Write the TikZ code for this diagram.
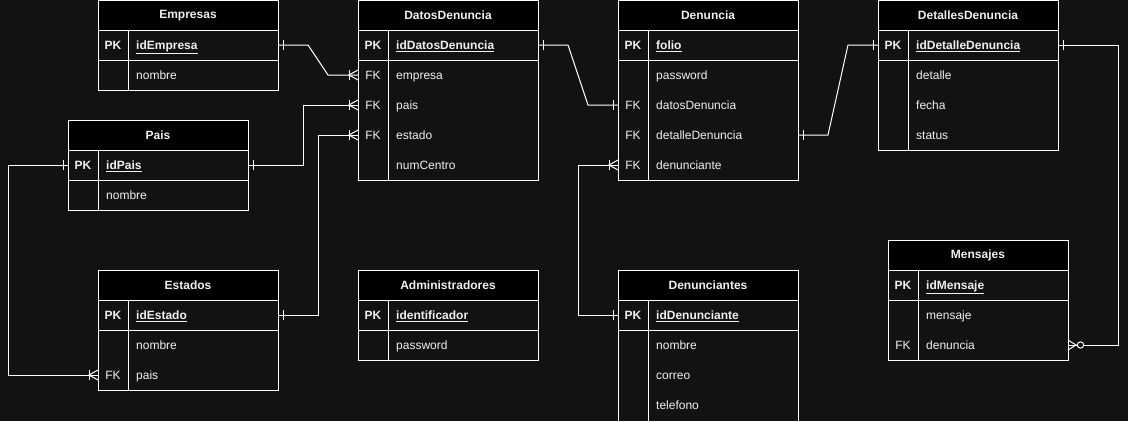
\documentclass[tikz,border=0pt]{standalone}
\usepackage{fontspec}
\setmainfont{Liberation Sans}
\usetikzlibrary{calc}
\definecolor{bg}{HTML}{121212}
\definecolor{fg}{HTML}{F0F0F0}
\tikzset{
  tabline/.style={draw=white, line width=1pt},
  titlebox/.style={draw=white, fill=black, line width=1pt, minimum width=180pt, minimum height=30pt,
    inner sep=0pt, outer sep=0pt, text=fg, font=\fontsize{12}{14}\selectfont\bfseries},
  rowbox/.style={minimum width=180pt, minimum height=30pt, inner sep=0pt, outer sep=0pt},
  keytext/.style={text=fg, inner sep=0pt, text height=8.6pt, text depth=0pt, font=\fontsize{12}{14}\selectfont},
  pkkey/.style={keytext, font=\fontsize{12}{14}\selectfont\bfseries},
  fieldtext/.style={text=fg, anchor=west, inner sep=0pt, text height=8.6pt, text depth=0pt, font=\fontsize{12}{14}\selectfont},
  pkfield/.style={fieldtext, font=\fontsize{12}{14}\selectfont\bfseries},
  conn/.style={draw=white, line width=1pt},
}
\newcommand{\ertitle}[4]{\node[titlebox] (#1) at ({#2+90},{#3+15}) {#4};}
\newcommand{\erframe}[3]{%
  \draw[tabline] ({#1},{#2+30}) rectangle ({#1+180},{#3});
  \draw[tabline] ({#1},{#2+60}) -- ({#1+180},{#2+60});
  \draw[tabline] ({#1+30},{#2+30}) -- ({#1+30},{#3});}
\newcommand{\errow}[5]{%
  \node[rowbox] (#1) at ({#2+90},{#3}) {};
  \node[keytext] (#1-k) at ({#2+15},{#3}) {#4};
  \node[fieldtext] (#1-f) at ({#2+38},{#3}) {#5};}
\newcommand{\erpk}[4]{%
  \node[rowbox] (#1) at ({#2+90},{#3}) {};
  \node[pkkey] (#1-k) at ({#2+15},{#3}) {PK};
  \node[pkfield] (#1-f) at ({#2+38},{#3}) {\underline{#4}};}
\newcommand{\mkoneE}[1]{\draw[conn] ($(#1.east)+(5,-5)$) -- ++(0,10);}
\newcommand{\mkoneW}[1]{\draw[conn] ($(#1.west)+(-5,-5)$) -- ++(0,10);}
\newcommand{\mkmanyW}[1]{\draw[conn] ($(#1.west)+(0,-5)$) -- ++(-9,5) -- ++(9,5);
  \draw[conn] ($(#1.west)+(-9,-5)$) -- ++(0,10);}
\newcommand{\mkzmanyE}[1]{\draw[conn] ($(#1.east)+(0,-5)$) -- ++(8,5) -- ++(-8,5);
  \draw[conn, fill=bg] ($(#1.east)+(12.5,0)$) circle (3.2);}
\begin{document}
\begin{tikzpicture}[x=1pt, y=-1pt]
\useasboundingbox (0,0) rectangle (1128,421);
\fill[bg] (0,0) rectangle (1128,421);

% Empresas
\ertitle{emp}{98}{0.5}{Empresas}
\erframe{98}{0.5}{90}
\erpk{empId}{98}{45}{idEmpresa}
\errow{empNom}{98}{75}{}{nombre}

% DatosDenuncia
\ertitle{dd}{358}{0.5}{DatosDenuncia}
\erframe{358}{0.5}{180}
\erpk{ddId}{358}{45}{idDatosDenuncia}
\errow{ddEmp}{358}{75}{FK}{empresa}
\errow{ddPais}{358}{105}{FK}{pais}
\errow{ddEst}{358}{135}{FK}{estado}
\errow{ddNum}{358}{165}{}{numCentro}

% Pais
\ertitle{pais}{68}{120}{Pais}
\erframe{68}{120}{210}
\erpk{paisId}{68}{165}{idPais}
\errow{paisNom}{68}{195}{}{nombre}

% Estados
\ertitle{est}{98}{270}{Estados}
\erframe{98}{270}{390}
\erpk{estId}{98}{315}{idEstado}
\errow{estNom}{98}{345}{}{nombre}
\errow{estPais}{98}{375}{FK}{pais}

% Administradores
\ertitle{adm}{358}{270}{Administradores}
\erframe{358}{270}{360}
\erpk{admId}{358}{315}{identificador}
\errow{admPw}{358}{345}{}{password}

% Denuncia
\ertitle{den}{618}{0.5}{Denuncia}
\erframe{618}{0.5}{180}
\erpk{denId}{618}{45}{folio}
\errow{denPw}{618}{75}{}{password}
\errow{denDatos}{618}{105}{FK}{datosDenuncia}
\errow{denDet}{618}{135}{FK}{detalleDenuncia}
\errow{denDenun}{618}{165}{FK}{denunciante}

% DetallesDenuncia
\ertitle{det}{878}{0.5}{DetallesDenuncia}
\erframe{878}{0.5}{150}
\erpk{detId}{878}{45}{idDetalleDenuncia}
\errow{detDet}{878}{75}{}{detalle}
\errow{detFecha}{878}{105}{}{fecha}
\errow{detStatus}{878}{135}{}{status}

% Denunciantes
\ertitle{dnt}{618}{270}{Denunciantes}
\erframe{618}{270}{422}
\erpk{dntId}{618}{315}{idDenunciante}
\errow{dntNom}{618}{345}{}{nombre}
\errow{dntCorreo}{618}{375}{}{correo}
\errow{dntTel}{618}{405}{}{telefono}

% Mensajes
\ertitle{men}{888}{240}{Mensajes}
\erframe{888}{240}{360}
\erpk{menId}{888}{285}{idMensaje}
\errow{menMsg}{888}{315}{}{mensaje}
\errow{menDen}{888}{345}{FK}{denuncia}

% Connectors
\draw[conn] (empId.east) -- ++(30,0) -- ($(ddEmp.west)+(-30,0)$) -- (ddEmp.west);
\mkoneE{empId}\mkmanyW{ddEmp}

\draw[conn] (paisId.east) -- ++(55,0) |- (ddPais.west);
\mkoneE{paisId}\mkmanyW{ddPais}

\draw[conn] (estId.east) -- ++(40,0) |- (ddEst.west);
\mkoneE{estId}\mkmanyW{ddEst}

\draw[conn] (ddId.east) -- ++(30,0) -- ($(denDatos.west)+(-30,0)$) -- (denDatos.west);
\mkoneE{ddId}\mkoneW{denDatos}

\draw[conn] (denDet.east) -- ++(30,0) -- ($(detId.west)+(-30,0)$) -- (detId.west);
\mkoneE{denDet}\mkoneW{detId}

\draw[conn] (denDenun.west) -- ++(-40,0) |- (dntId.west);
\mkmanyW{denDenun}\mkoneW{dntId}

\draw[conn] (paisId.west) -- ++(-60,0) |- (estPais.west);
\mkoneW{paisId}\mkmanyW{estPais}

\draw[conn] (detId.east) -- ++(60,0) |- (menDen.east);
\mkoneE{detId}\mkzmanyE{menDen}
\end{tikzpicture}
\end{document}
